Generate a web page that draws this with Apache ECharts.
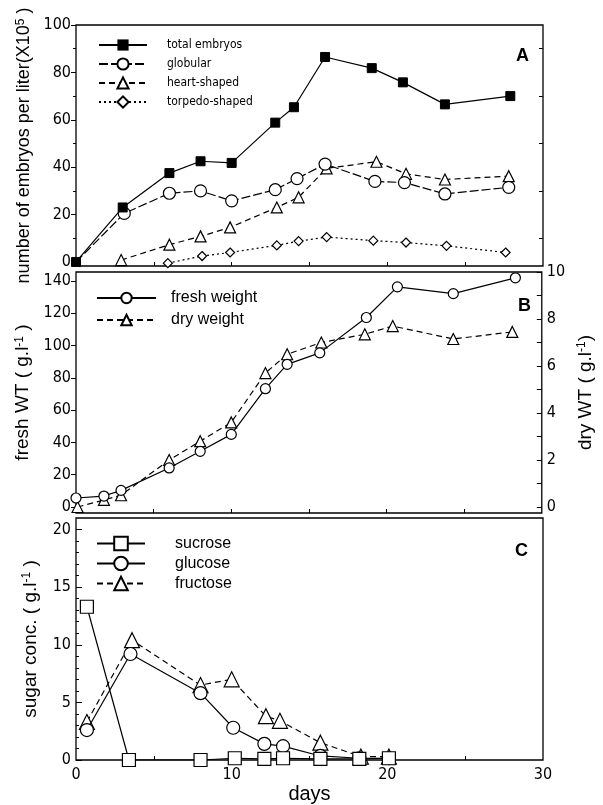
<!DOCTYPE html>
<html><head><meta charset="utf-8">
<script src="https://cdn.jsdelivr.net/npm/echarts@6/dist/echarts.min.js"></script>
<style>html,body{margin:0;padding:0;background:#fff}#c{width:603px;height:805px}</style>
</head><body><div id="c"></div><script>
// ---------- data ----------
// Panel A: embryos per liter (x10^5)
const totalDays = [0, 3, 6, 8, 10, 12.8, 14, 16, 19, 21, 23.7, 27.9];
const totalVals = [0, 23, 37.5, 42.5, 41.8, 58.8, 65.3, 86.5, 81.8, 75.8, 66.5, 70];
const globDays  = [0, 3.1, 6, 8, 10, 12.8, 14.2, 16, 19.2, 21.1, 23.7, 27.8];
const globVals  = [0, 20.5, 29, 30, 25.8, 30.5, 35.2, 41.3, 34, 33.5, 28.7, 31.5];
const heartDays = [2.9, 6, 8, 9.9, 12.9, 14.3, 16.1, 19.3, 21.2, 23.7, 27.8];
const heartVals = [0.8, 7.3, 10.8, 14.6, 23, 27.3, 39.5, 42.3, 37.2, 34.8, 36.2];
const torpDays  = [5.9, 8.1, 9.9, 12.9, 14.3, 16.1, 19.1, 21.2, 23.8, 27.6];
const torpVals  = [-0.5, 2.5, 4, 7, 8.8, 10.5, 9, 8.2, 6.8, 4];
// Panel B: fresh / dry weight (g/l)
const freshDays = [0, 1.8, 2.9, 6, 8, 10, 12.2, 13.6, 15.7, 18.7, 20.7, 24.3, 28.3];
const freshVals = [5.6, 6.8, 10.3, 24.2, 34.5, 45, 73.3, 88.4, 95.5, 117.4, 136.4, 132.2, 142];
const dryDays   = [0.1, 1.8, 2.9, 6, 8, 10, 12.2, 13.6, 15.8, 18.6, 20.4, 24.3, 28.1];
const dryVals   = [0, 0.3, 0.5, 2.0, 2.8, 3.6, 5.7, 6.5, 7.0, 7.35, 7.7, 7.15, 7.45];
// Panel C: sugar conc. (g/l)
const sucDays = [0.7, 3.4, 8, 10.2, 12.1, 13.3, 15.7, 18.2, 20.1];
const sucVals = [13.3, 0, 0, 0.15, 0.1, 0.15, 0.1, 0.1, 0.15];
const gluDays = [0.7, 3.5, 8, 10.1, 12.1, 13.3, 15.7, 18.2, 20.1];
const gluVals = [2.6, 9.2, 5.8, 2.8, 1.4, 1.2, 0.35, 0.15, 0.15];
const fruDays = [0.7, 3.6, 8, 10, 12.2, 13.1, 15.7, 18.3, 20.1];
const fruVals = [3.3, 10.4, 6.5, 7.0, 3.8, 3.4, 1.5, 0.3, 0.3];
// tick labels / tick positions
const dayLabels   = [0, 10, 20, 30];
const dayTicks    = [5, 10, 15, 20, 25];
const aTicks      = [0, 20, 40, 60, 80, 100];
const aMinorTicks = [10, 30, 50, 70, 90];
const bLeftTicks  = [0, 20, 40, 60, 80, 100, 120, 140];
const bRightLabels= [0, 2, 4, 6, 8, 10];
const bRightTicks = [0, 1, 2, 3, 4, 5, 6, 7, 8, 9, 10];
const cTicks      = [0, 5, 10, 15, 20];
const cMinorTicks = [1,2,3,4,6,7,8,9,11,12,13,14,16,17,18,19];

// ---------- chart ----------
const NUM = "'Liberation Sans Narrow','DejaVu Sans Condensed','Roboto Condensed','Liberation Sans',sans-serif";
const TXT = "'Liberation Sans',Arial,sans-serif";
const pts = (d, v) => d.map((x, i) => [x, v[i]]);
const openMk = {color: '#fff', borderColor: '#000', borderWidth: 1.2};
const ls = (type) => ({color: '#000', width: 1.2, type: type});
const supRich = {sup: {fontSize: 12, verticalAlign: 'top', lineHeight: 12, fontFamily: TXT, color: '#000'}};

function xAx(gi, withLabels) {
  const o = {
    type: 'value', gridIndex: gi, min: 0, max: 30,
    axisLine: {show: false, onZero: false},
    splitLine: {show: false},
    axisTick: {show: true, inside: true, length: 4, customValues: dayTicks, lineStyle: {color: '#000'}},
    axisLabel: {show: false}
  };
  if (withLabels) {
    o.axisLabel = {show: true, customValues: dayLabels, fontFamily: NUM, fontSize: 16, color: '#000', margin: 7,
                   showMinLabel: true, showMaxLabel: true};
    o.name = 'days'; o.nameLocation = 'middle'; o.nameGap = 24;
    o.nameTextStyle = {fontFamily: TXT, fontSize: 20, color: '#000'};
  }
  return o;
}
function yAx(gi, min, max, pos, tickVals, inside, len, labelVals) {
  return {
    type: 'value', gridIndex: gi, min: min, max: max, position: pos,
    axisLine: {show: false, onZero: false},
    splitLine: {show: false},
    axisTick: {show: true, inside: inside, length: len, customValues: tickVals, lineStyle: {color: '#000', width: 1}},
    axisLabel: labelVals ? {show: true, customValues: labelVals, fontFamily: NUM, fontSize: 16, color: '#000', margin: 5,
                            showMinLabel: true, showMaxLabel: true, hideOverlap: false} : {show: false}
  };
}

const yA = yAx(0, -1.7, 100, 'left', aTicks, false, 5, aTicks);
yA.name = 'number of embryos per liter(X10{sup|5} )';
yA.nameLocation = 'middle'; yA.nameGap = 36; yA.nameRotate = 90;
yA.nameTextStyle = {fontFamily: TXT, fontSize: 18, color: '#000', rich: supRich};

const yB = yAx(1, -3.7, 145.6, 'left', bLeftTicks, false, 5, bLeftTicks);
yB.name = 'fresh WT ( g.l{sup|-1} )';
yB.nameLocation = 'middle'; yB.nameGap = 36; yB.nameRotate = 90;
yB.nameTextStyle = {fontFamily: TXT, fontSize: 19, color: '#000', rich: supRich};

const yBR = yAx(1, -0.255, 10, 'right', bRightTicks, true, 5, bRightLabels);
yBR.name = 'dry WT ( g.l{sup|-1})';
yBR.nameLocation = 'middle'; yBR.nameGap = 30; yBR.nameRotate = 90;
yBR.nameTextStyle = {fontFamily: TXT, fontSize: 19, color: '#000', rich: supRich};

const yC = yAx(2, 0, 21, 'left', cTicks, true, 6, cTicks);
yC.name = 'sugar conc. ( g.l{sup|-1} )';
yC.nameLocation = 'middle'; yC.nameGap = 36; yC.nameRotate = 90;
yC.nameTextStyle = {fontFamily: TXT, fontSize: 19, color: '#000', rich: supRich};

const gridStyle = {show: true, borderColor: '#000', borderWidth: 1.3, backgroundColor: 'transparent', containLabel: false};

// globular starts at the origin, where only the black square of "total" is visible
const globData = pts(globDays, globVals).map(p => (p[0] === 0 ? {value: p, symbolSize: 0} : p));

const option = {
  animation: false,
  backgroundColor: '#fff',
  grid: [
    Object.assign({left: 76, top: 25, width: 467, height: 241}, gridStyle),
    Object.assign({left: 76, top: 272, width: 467, height: 241}, gridStyle),
    Object.assign({left: 76, top: 518, width: 467, height: 244}, gridStyle)
  ],
  title: [
    {text: 'A', left: 511, top: 42, textStyle: {fontFamily: TXT, fontSize: 18, fontWeight: 'bold', color: '#000'}},
    {text: 'B', left: 513, top: 292, textStyle: {fontFamily: TXT, fontSize: 18, fontWeight: 'bold', color: '#000'}},
    {text: 'C', left: 510, top: 537, textStyle: {fontFamily: TXT, fontSize: 18, fontWeight: 'bold', color: '#000'}}
  ],
  legend: [
    {left: 98, top: 38, orient: 'vertical', padding: 0, itemWidth: 48, itemHeight: 14, itemGap: 5,
     data: ['total embryos', 'globular', 'heart-shaped', 'torpedo-shaped'],
     textStyle: {fontFamily: NUM, fontSize: 12, lineHeight: 14, color: '#000', padding: [0, 0, 0, 15]}},
    {left: 96, top: 290, orient: 'vertical', padding: 0, itemWidth: 59, itemHeight: 13, itemGap: 6,
     data: ['fresh weight', 'dry weight'],
     textStyle: {fontFamily: TXT, fontSize: 16, lineHeight: 16, color: '#000', padding: [0, 0, 0, 10]}},
    {left: 96, top: 535, orient: 'vertical', padding: 0, itemWidth: 48, itemHeight: 17, itemGap: 3,
     data: ['sucrose', 'glucose', 'fructose'],
     textStyle: {fontFamily: TXT, fontSize: 16, lineHeight: 17, color: '#000', padding: [0, 0, 0, 25]}}
  ],
  xAxis: [xAx(0, false), xAx(1, false), xAx(2, true)],
  yAxis: [
    yA,                                                        // 0
    yAx(0, -1.7, 100, 'left', aMinorTicks, false, 3, null),    // 1
    yAx(0, -1.7, 100, 'right', aMinorTicks, true, 4, null),    // 2
    yB,                                                        // 3
    yBR,                                                       // 4
    yC,                                                        // 5
    yAx(2, 0, 21, 'left', cMinorTicks, true, 3, null)          // 6
  ],
  series: [
    {name: 'total embryos', type: 'line', xAxisIndex: 0, yAxisIndex: 0, data: pts(totalDays, totalVals),
     symbol: 'rect', symbolSize: 9, lineStyle: ls('solid'), itemStyle: {color: '#000', borderColor: '#000'}, z: 5},
    {name: 'globular', type: 'line', xAxisIndex: 0, yAxisIndex: 0, data: globData,
     symbol: 'circle', symbolSize: 12, lineStyle: ls([9, 3]), itemStyle: openMk, z: 4},
    {name: 'heart-shaped', type: 'line', xAxisIndex: 0, yAxisIndex: 0, data: pts(heartDays, heartVals),
     symbol: 'triangle', symbolSize: 11, lineStyle: ls([6, 4]), itemStyle: openMk, z: 3},
    {name: 'torpedo-shaped', type: 'line', xAxisIndex: 0, yAxisIndex: 0, data: pts(torpDays, torpVals),
     symbol: 'diamond', symbolSize: 9, lineStyle: ls([2, 3]), itemStyle: openMk, z: 3},
    {name: 'fresh weight', type: 'line', xAxisIndex: 1, yAxisIndex: 3, data: pts(freshDays, freshVals),
     symbol: 'circle', symbolSize: 10, lineStyle: ls('solid'), itemStyle: openMk, z: 4},
    {name: 'dry weight', type: 'line', xAxisIndex: 1, yAxisIndex: 4, data: pts(dryDays, dryVals),
     symbol: 'triangle', symbolSize: 11, lineStyle: ls([6, 4]), itemStyle: openMk, z: 3},
    {name: 'sucrose', type: 'line', xAxisIndex: 2, yAxisIndex: 5, data: pts(sucDays, sucVals),
     symbol: 'rect', symbolSize: 13, lineStyle: ls('solid'), itemStyle: openMk, z: 5},
    {name: 'glucose', type: 'line', xAxisIndex: 2, yAxisIndex: 5, data: pts(gluDays, gluVals),
     symbol: 'circle', symbolSize: 13, lineStyle: ls('solid'), itemStyle: openMk, z: 4},
    {name: 'fructose', type: 'line', xAxisIndex: 2, yAxisIndex: 5, data: pts(fruDays, fruVals),
     symbol: 'triangle', symbolSize: 15, lineStyle: ls([6, 4]), itemStyle: openMk, z: 3}
  ]
};
const chart = echarts.init(document.getElementById('c'), null, {renderer: 'canvas'});
chart.setOption(option);
</script></body></html>
